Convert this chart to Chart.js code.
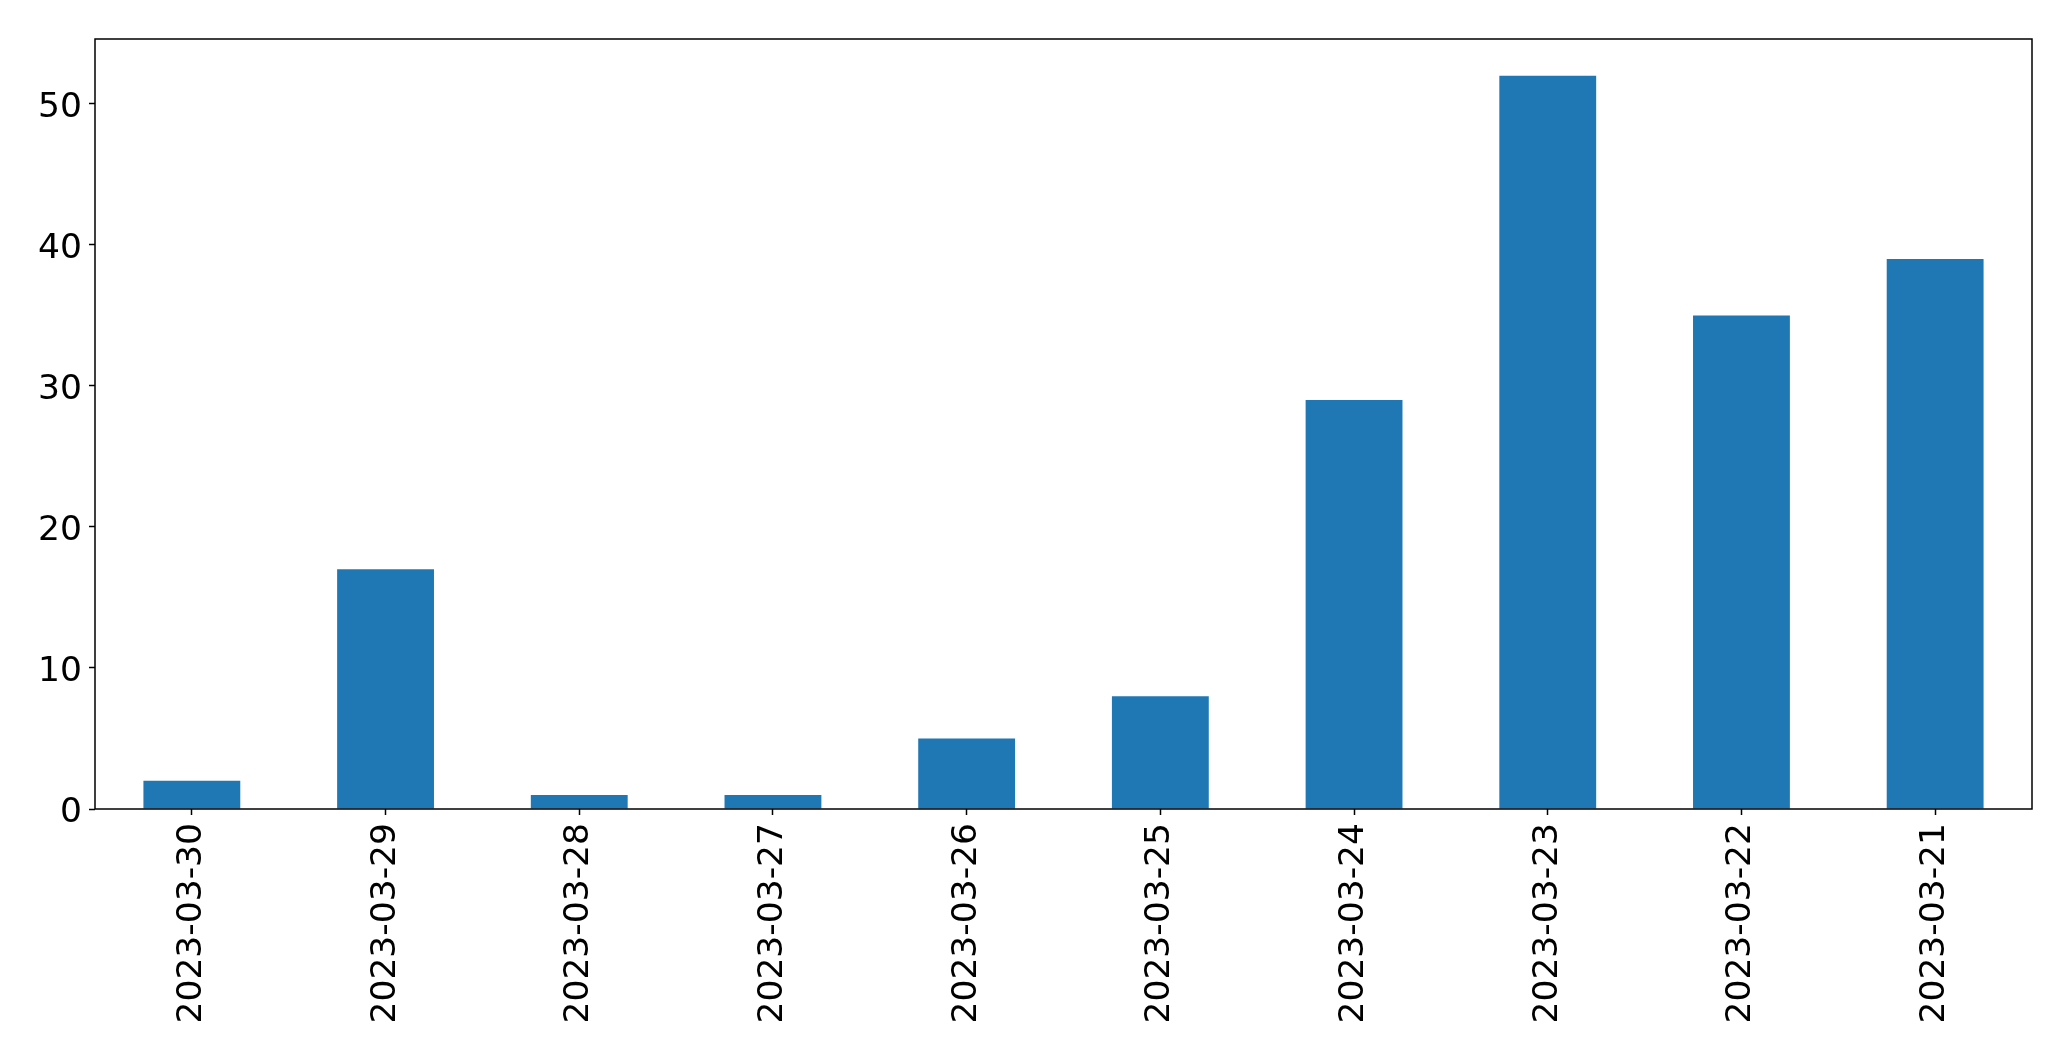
<!DOCTYPE html>
<html lang="en">
<head>
    <meta charset="UTF-8">
    <title>Counts per day</title>
    <script src="https://cdn.jsdelivr.net/npm/chart.js"></script>
    <style>
        body {
            margin: 0;
            background: #fff;
        }
        canvas {
            display: block;
        }
    </style>
</head>
<body>
    <canvas id="dayChart" width="2071" height="1061"></canvas>

    <script>
        // Werte
        const days = ['2023-03-30', '2023-03-29', '2023-03-28', '2023-03-27', '2023-03-26',
                      '2023-03-25', '2023-03-24', '2023-03-23', '2023-03-22', '2023-03-21'];
        const counts = [2, 17, 1, 1, 5, 8, 29, 52, 35, 39];
        const yTicks = [0, 10, 20, 30, 40, 50];

        const tickFont = { family: 'DejaVu Sans', size: 34.5 };

        // Rahmen um die Plotfläche (wie matplotlib spines)
        const framePlugin = {
            id: 'frame',
            afterDatasetsDraw(chart) {
                const { ctx, chartArea } = chart;
                ctx.save();
                ctx.strokeStyle = '#000';
                ctx.lineWidth = 1.5;
                ctx.strokeRect(chartArea.left, chartArea.top,
                    chartArea.right - chartArea.left, chartArea.bottom - chartArea.top);
                ctx.restore();
            }
        };

        const ctx = document.getElementById('dayChart').getContext('2d');
        new Chart(ctx, {
            type: 'bar',
            data: {
                labels: days,
                datasets: [{
                    data: counts,
                    backgroundColor: '#1f77b4',
                    borderWidth: 0,
                    barPercentage: 0.5,
                    categoryPercentage: 1.0
                }]
            },
            options: {
                responsive: false,
                animation: false,
                devicePixelRatio: 1,
                layout: {
                    padding: { left: 0, top: 39, right: 39, bottom: 0 }
                },
                plugins: {
                    legend: { display: false },
                    tooltip: { enabled: false }
                },
                scales: {
                    x: {
                        offset: true,
                        border: { display: false },
                        grid: {
                            drawOnChartArea: false,
                            drawTicks: true,
                            tickLength: 6,
                            tickColor: '#000',
                            tickWidth: 1.5,
                            offset: false
                        },
                        ticks: {
                            color: '#000',
                            font: tickFont,
                            minRotation: 90,
                            maxRotation: 90,
                            autoSkip: false,
                            padding: 8
                        },
                        afterFit(scale) {
                            scale.height = 252;
                        }
                    },
                    y: {
                        min: 0,
                        max: 54.6,
                        border: { display: false },
                        grid: {
                            drawOnChartArea: false,
                            drawTicks: true,
                            tickLength: 6,
                            tickColor: '#000',
                            tickWidth: 1.5
                        },
                        afterBuildTicks(scale) {
                            scale.ticks = yTicks.map(v => ({ value: v }));
                        },
                        ticks: {
                            color: '#000',
                            font: tickFont,
                            padding: 7,
                            labelOffset: 4
                        },
                        afterFit(scale) {
                            scale.width = 95;
                        }
                    }
                }
            },
            plugins: [framePlugin]
        });
    </script>
</body>
</html>
